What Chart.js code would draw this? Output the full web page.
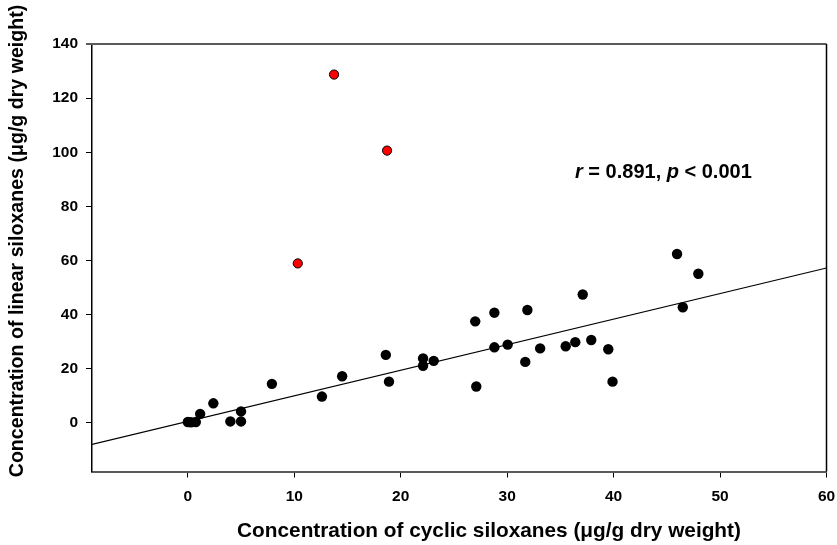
<!DOCTYPE html>
<html>
<head>
<meta charset="utf-8">
<script src="https://cdn.jsdelivr.net/npm/chart.js@4/dist/chart.umd.min.js"></script>
<style>
  html, body { margin: 0; padding: 0; background: #fff; }
  #wrap { width: 837px; height: 545px; position: relative; }
</style>
</head>
<body>
<div id="wrap"><canvas id="c" width="837" height="545"></canvas></div>
<script>
// ---- data ----
const cyclicX = [0, 0.3, 0.75, 1.16, 2.4, 4.0, 5.0, 5.0, 7.9, 12.6, 14.5, 18.6, 18.9, 22.1, 22.1, 23.1,
  27.0, 27.1, 28.8, 28.8, 30.05, 31.7, 31.9, 33.1, 35.5, 36.4, 37.1, 37.9, 39.5, 39.9, 45.96, 46.5, 47.96];
const linearY = [0.3, 0.2, 0.3, 3.3, 7.2, 0.5, 0.5, 4.2, 14.4, 9.7, 17.2, 25.1, 15.2, 23.8, 21.1, 22.9,
  37.5, 13.4, 40.7, 27.9, 28.9, 22.5, 41.7, 27.5, 28.3, 29.8, 47.4, 30.6, 27.2, 15.2, 62.4, 42.7, 55.1];
const outlierX = [10.33, 13.74, 18.72];
const outlierY = [58.9, 128.7, 100.6];
const fitSlope = 0.945;
const fitIntercept = 0.5;
const xTickValues = [0, 10, 20, 30, 40, 50, 60];
const yTickValues = [0, 20, 40, 60, 80, 100, 120, 140];
const xRange = [-9, 60];
const yRange = [-18, 140];
const xTitle = 'Concentration of cyclic siloxanes (\u03bcg/g dry weight)';
const yTitle = 'Concentration of linear siloxanes (\u03bcg/g dry weight)';
const statR = '0.891';
const statP = '0.001';

const blackPts = cyclicX.map((x, i) => ({x: x, y: linearY[i]}));
const redPts = outlierX.map((x, i) => ({x: x, y: outlierY[i]}));
const fitPts = xRange.map(x => ({x: x, y: fitSlope * x + fitIntercept}));

const FONT = "'Liberation Sans', Arial, sans-serif";

const decor = {
  id: 'decor',
  afterDatasetsDraw(chart) {
    const {ctx, chartArea: a} = chart;
    ctx.save();
    // frame: top grey, right black
    ctx.strokeStyle = '#5a5a5a';
    ctx.lineWidth = 2;
    ctx.beginPath(); ctx.moveTo(a.left - 6, a.top); ctx.lineTo(a.right, a.top); ctx.stroke();
    ctx.strokeStyle = '#000';
    ctx.lineWidth = 1.5;
    ctx.beginPath(); ctx.moveTo(a.right, a.top); ctx.lineTo(a.right, a.bottom); ctx.stroke();
    ctx.restore();
  },
  afterDraw(chart) {
    const {ctx} = chart;
    ctx.save();
    ctx.fillStyle = '#000';
    // x title
    ctx.font = 'bold 20.8px ' + FONT;
    ctx.textAlign = 'center';
    ctx.textBaseline = 'middle';
    ctx.fillText(xTitle, 489, 531);
    // y title
    ctx.font = 'bold 19.6px ' + FONT;
    ctx.save();
    ctx.translate(18, 241);
    ctx.rotate(-Math.PI / 2);
    ctx.fillText(yTitle, 0, 0);
    ctx.restore();
    // annotation
    const parts = [
      ['italic bold 20px ' + FONT, 'r'],
      ['bold 20px ' + FONT, ' = ' + statR + ', '],
      ['italic bold 20px ' + FONT, 'p'],
      ['bold 20px ' + FONT, ' < ' + statP]
    ];
    ctx.textAlign = 'left';
    ctx.textBaseline = 'alphabetic';
    let x = 575;
    const y = 178;
    for (const [f, t] of parts) {
      ctx.font = f;
      ctx.fillText(t, x, y);
      x += ctx.measureText(t).width;
    }
    ctx.restore();
  }
};

new Chart(document.getElementById('c'), {
  type: 'scatter',
  data: {
    datasets: [
      {
        type: 'line',
        data: fitPts,
        borderColor: '#000',
        borderWidth: 1.2,
        pointRadius: 0,
        fill: false,
        tension: 0,
        order: 3
      },
      {
        data: blackPts,
        backgroundColor: '#000',
        borderColor: '#000',
        borderWidth: 0,
        pointRadius: 5.2,
        order: 2
      },
      {
        data: redPts,
        backgroundColor: '#ff0000',
        borderColor: '#000',
        borderWidth: 1,
        pointRadius: 4.6,
        order: 1
      }
    ]
  },
  options: {
    responsive: false,
    animation: false,
    events: [],
    layout: { padding: { left: 0, right: 10.5, top: 44, bottom: 0 } },
    plugins: { legend: { display: false }, tooltip: { enabled: false } },
    scales: {
      x: {
        type: 'linear',
        min: xRange[0], max: xRange[1],
        afterBuildTicks: s => { s.ticks = xTickValues.map(v => ({value: v})); },
        afterFit: s => { s.height = 73.5; s.paddingLeft = 0; s.paddingRight = 0; },
        grid: { drawOnChartArea: false, drawTicks: true, tickLength: 6, color: '#000', lineWidth: 1 },
        border: { display: true, color: '#5a5a5a', width: 2 },
        ticks: { color: '#000', font: { family: FONT, size: 15.5, weight: 'bold' }, padding: 10, maxRotation: 0 }
      },
      y: {
        type: 'linear',
        min: yRange[0], max: yRange[1],
        afterBuildTicks: s => { s.ticks = yTickValues.map(v => ({value: v})); },
        afterFit: s => { s.width = 92; s.paddingTop = 0; s.paddingBottom = 0; },
        grid: { drawOnChartArea: false, drawTicks: true, tickLength: 6, color: '#000', lineWidth: 1 },
        border: { display: true, color: '#000', width: 1.5 },
        ticks: { color: '#000', font: { family: FONT, size: 15.5, weight: 'bold' }, padding: 8 }
      }
    }
  },
  plugins: [decor]
});
</script>
</body>
</html>
